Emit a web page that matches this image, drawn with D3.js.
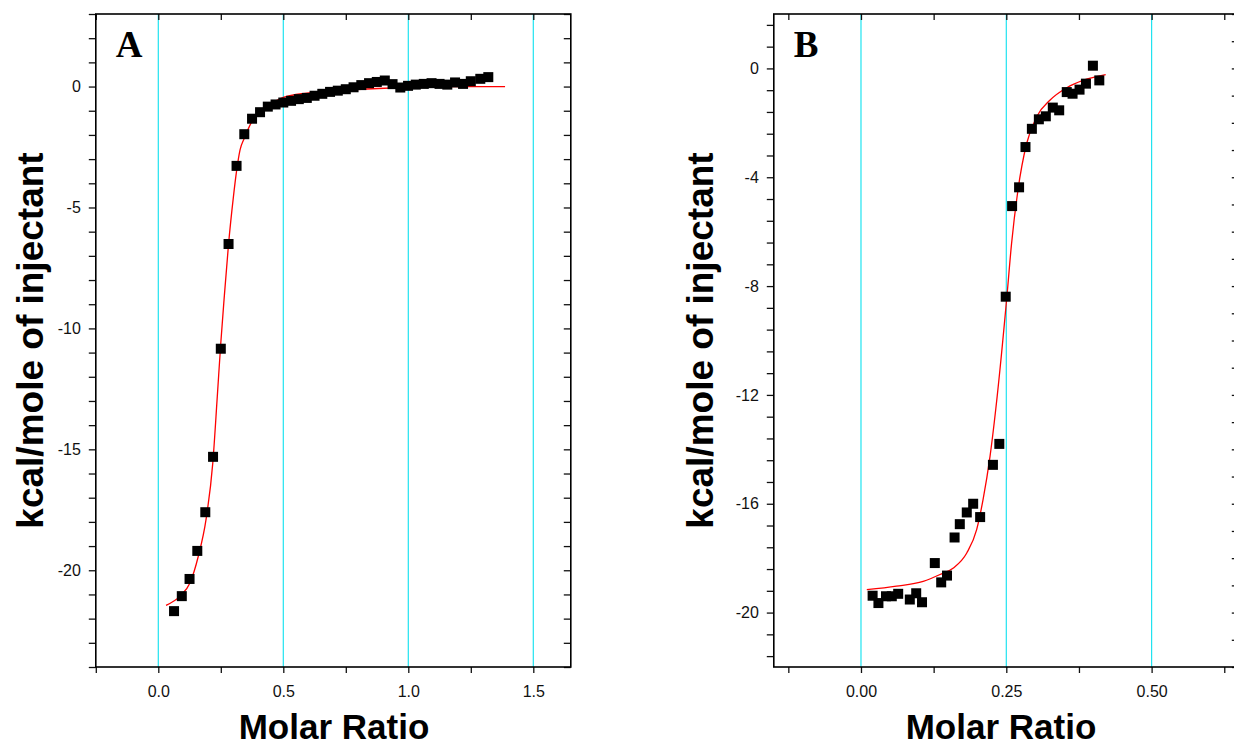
<!DOCTYPE html>
<html>
<head>
<meta charset="utf-8">
<script src="https://cdn.jsdelivr.net/npm/d3@7"></script>
<style>
    body { margin: 0; background: #fff; }
    svg { display: block; }
    .tick text { font-family: "Liberation Sans", Arial, sans-serif; font-size: 16px; fill: #111; }
    .domain { display: none; }
</style>
</head>
<body>
<div id="chart"></div>
<script>
// panel A data (molar ratio vs kcal/mole of injectant)
const aMolar = [0.063, 0.094, 0.125, 0.156, 0.188, 0.219, 0.250, 0.281, 0.313, 0.344,
    0.375, 0.407, 0.438, 0.469, 0.500, 0.531, 0.562, 0.594, 0.625, 0.656,
    0.687, 0.718, 0.750, 0.781, 0.812, 0.843, 0.874, 0.906, 0.937, 0.968,
    0.999, 1.030, 1.062, 1.093, 1.125, 1.156, 1.187, 1.219, 1.250, 1.288, 1.320];
const aHeat = [-21.69, -21.07, -20.36, -19.20, -17.60, -15.31, -10.84, -6.51, -3.28, -1.97,
    -1.33, -1.06, -0.83, -0.74, -0.66, -0.59, -0.52, -0.47, -0.38, -0.30,
    -0.22, -0.17, -0.11, -0.03, 0.06, 0.14, 0.19, 0.25, 0.10, -0.04,
    0.03, 0.08, 0.11, 0.14, 0.11, 0.08, 0.17, 0.11, 0.22, 0.32, 0.39];

// panel A fitted curve
const aFitMolar = [0.031, 0.087, 0.127, 0.160, 0.191, 0.218, 0.236, 0.250, 0.263, 0.281,
    0.300, 0.313, 0.327, 0.345, 0.374, 0.413, 0.465, 0.500, 0.594, 0.720,
    0.880, 1.000, 1.120, 1.387];
const aFitHeat = [-21.45, -21.07, -20.52, -19.42, -17.90, -15.56, -12.81, -10.60, -8.81, -6.51,
    -4.60, -3.50, -2.62, -2.12, -1.45, -0.96, -0.62, -0.45, -0.27, -0.17,
    -0.08, -0.03, 0.00, 0.00];

// panel B data
const bMolar = [0.020, 0.030, 0.043, 0.053, 0.064, 0.084, 0.095, 0.105, 0.127, 0.138,
    0.148, 0.161, 0.170, 0.182, 0.193, 0.205, 0.227, 0.238, 0.249, 0.260,
    0.272, 0.283, 0.294, 0.306, 0.318, 0.330, 0.341, 0.354, 0.364, 0.376,
    0.387, 0.399, 0.410];
const bHeat = [-19.38, -19.65, -19.40, -19.40, -19.31, -19.52, -19.29, -19.62, -18.18, -18.89,
    -18.64, -17.24, -16.75, -16.32, -16.00, -16.49, -14.57, -13.80, -8.39, -5.06,
    -4.37, -2.89, -2.22, -1.87, -1.76, -1.44, -1.54, -0.87, -0.93, -0.78,
    -0.56, 0.10, -0.44];

const bFitMolar = [0.010, 0.061, 0.107, 0.136, 0.159, 0.182, 0.199, 0.210, 0.222, 0.232,
    0.251, 0.259, 0.270, 0.285, 0.303, 0.325, 0.354, 0.382, 0.421];
const bFitHeat = [-19.16, -19.03, -18.85, -18.60, -18.36, -17.81, -16.95, -15.85, -14.26, -12.50,
    -8.39, -6.45, -4.48, -2.76, -1.75, -1.17, -0.71, -0.44, -0.23];

// tick labels
const aXTicks = [0, 0.5, 1.0, 1.5];
const aXLabels = ["0.0", "0.5", "1.0", "1.5"];
const aYTicks = [0, -5, -10, -15, -20];
const bXTicks = [0, 0.25, 0.5];
const bXLabels = ["0.00", "0.25", "0.50"];
const bYTicks = [0, -4, -8, -12, -16, -20];

const svg = d3.select("#chart")
    .append("svg")
    .attr("width", 1234)
    .attr("height", 747);

// tick positions anchored on zero
function anchoredRange(lo, hi, step) {
    const out = [];
    for (let k = Math.ceil(lo / step - 1e-6); k * step <= hi + 1e-6; k++) {
        out.push(+(k * step).toFixed(6));
    }
    return out;
}

function drawPanel(p) {
    const x = d3.scaleLinear().domain(p.xDomain).range([p.left, p.right]);
    const y = d3.scaleLinear().domain(p.yDomain).range([p.bottom, p.top]);

    const g = svg.append("g");

    const xMinor = anchoredRange(p.xDomain[0], p.xDomain[1], p.xMinorStep);
    const yMinor = anchoredRange(p.yDomain[0], p.yDomain[1], p.yMinorStep);

    // cyan vertical lines at the major x ticks
    g.selectAll(".vline")
        .data(p.xTicks)
        .join("line")
        .attr("x1", d => x(d))
        .attr("x2", d => x(d))
        .attr("y1", p.top)
        .attr("y2", p.bottom)
        .attr("stroke", "#1fe3f0")
        .attr("stroke-width", 1.2);

    // bottom axis
    const xLabel = d => {
        const i = p.xTicks.findIndex(t => Math.abs(t - d) < 1e-6);
        return i >= 0 ? p.xLabels[i] : "";
    };
    g.append("g")
        .attr("transform", `translate(0,${p.bottom})`)
        .call(d3.axisBottom(x).tickValues(xMinor).tickSize(6).tickPadding(13).tickFormat(xLabel));

    // top axis, ticks inward
    g.append("g")
        .attr("transform", `translate(0,${p.top})`)
        .call(d3.axisTop(x).tickValues(xMinor).tickSize(-6).tickFormat(""));

    // left axis, plain hyphen for negatives
    const yLabel = d => p.yTicks.some(t => Math.abs(t - d) < 1e-6) ? String(Math.round(d)) : "";
    g.append("g")
        .attr("transform", `translate(${p.left},0)`)
        .call(d3.axisLeft(y).tickValues(yMinor).tickSize(7).tickPadding(8).tickFormat(yLabel));

    // right axis, ticks inward
    const yRight = p.yRightStep ? anchoredRange(p.yDomain[0], p.yDomain[1], p.yRightStep) : yMinor;
    g.append("g")
        .attr("transform", `translate(${p.right},0)`)
        .call(d3.axisRight(y).tickValues(yRight).tickSize(-7).tickFormat(""));

    g.selectAll(".tick line").attr("stroke", "#111").attr("stroke-width", 1.3);

    // frame
    g.append("rect")
        .attr("x", p.left)
        .attr("y", p.top)
        .attr("width", p.right - p.left)
        .attr("height", p.bottom - p.top)
        .attr("fill", "none")
        .attr("stroke", "#000")
        .attr("stroke-width", 1.6);

    // fitted curve
    const fit = p.fitX.map((v, i) => [v, p.fitY[i]]);
    g.append("path")
        .datum(fit)
        .attr("fill", "none")
        .attr("stroke", "#ff0000")
        .attr("stroke-width", 1.3)
        .attr("d", d3.line().x(d => x(d[0])).y(d => y(d[1])).curve(d3.curveMonotoneX));

    // data points
    const pts = p.xs.map((v, i) => [v, p.ys[i]]);
    g.selectAll(".pt")
        .data(pts)
        .join("rect")
        .attr("x", d => x(d[0]) - 5)
        .attr("y", d => y(d[1]) - 5)
        .attr("width", 10)
        .attr("height", 10)
        .attr("fill", "#000");

    // panel letter
    g.append("text")
        .attr("x", p.left + 20)
        .attr("y", p.top + 43)
        .attr("font-family", "'Liberation Serif', 'Times New Roman', serif")
        .attr("font-weight", "bold")
        .attr("font-size", 37)
        .text(p.letter);

    // axis titles
    g.append("text")
        .attr("x", p.xTitleX)
        .attr("y", 739)
        .attr("text-anchor", "middle")
        .attr("font-family", "'Liberation Sans', Arial, sans-serif")
        .attr("font-weight", "bold")
        .attr("font-size", 35)
        .text("Molar Ratio");

    g.append("text")
        .attr("transform", `translate(${p.yTitleX},${(p.top + p.bottom) / 2}) rotate(-90)`)
        .attr("text-anchor", "middle")
        .attr("font-family", "'Liberation Sans', Arial, sans-serif")
        .attr("font-weight", "bold")
        .attr("font-size", 37)
        .text("kcal/mole of injectant");
}

drawPanel({
    letter: "A",
    left: 95.8, right: 570.8, top: 14, bottom: 667,
    xDomain: [-0.25, 1.65], yDomain: [-24, 3],
    xMinorStep: 0.25, yMinorStep: 1,
    xTicks: aXTicks, xLabels: aXLabels, yTicks: aYTicks,
    xs: aMolar, ys: aHeat, fitX: aFitMolar, fitY: aFitHeat,
    xTitleX: 334, yTitleX: 43
});

drawPanel({
    letter: "B",
    left: 773.8, right: 1238.8, top: 14, bottom: 667,
    xDomain: [-0.15, 0.65], yDomain: [-22, 2],
    xMinorStep: 0.125, yMinorStep: 0.8, yRightStep: 1,
    xTicks: bXTicks, xLabels: bXLabels, yTicks: bYTicks,
    xs: bMolar, ys: bHeat, fitX: bFitMolar, fitY: bFitHeat,
    xTitleX: 1001, yTitleX: 713
});
</script>
</body>
</html>
